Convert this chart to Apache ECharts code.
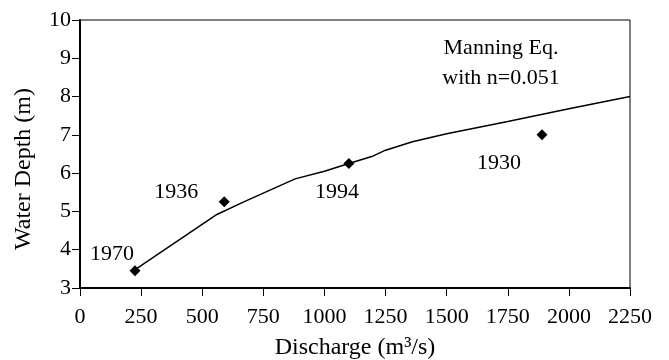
<!DOCTYPE html>
<html>
<head>
<meta charset="utf-8">
<script src="https://cdn.jsdelivr.net/npm/echarts@6/dist/echarts.min.js"></script>
<style>
  html, body { margin: 0; padding: 0; background: #fff; }
  #chart { width: 669px; height: 360px; }
</style>
</head>
<body>
<div id="chart"></div>
<script>
// Observed floods: year, discharge (m3/s), water depth (m)
const obsYears = ["1970", "1936", "1994", "1930"];
const obsDischarge = [225, 590, 1100, 1890];
const obsDepth = [3.45, 5.25, 6.25, 7.0];

// Manning equation rating curve (n = 0.051)
const curveDischarge = [230, 560, 670, 880, 1000, 1100, 1200, 1250, 1360, 1500, 1750, 2000, 2250];
const curveDepth = [3.5, 4.92, 5.25, 5.85, 6.05, 6.25, 6.45, 6.6, 6.82, 7.03, 7.35, 7.68, 8.0];

const FONT = "'Liberation Serif', 'DejaVu Serif', serif";
const TEXT_COLOR = "#000";

// label offsets per observed year (pixels)
const labelOffsets = {
  "1970": [-23, -17],
  "1936": [-48, -10],
  "1994": [-12, 29],
  "1930": [-43, 28],
};

const chart = echarts.init(document.getElementById("chart"));

const option = {
  animation: false,
  backgroundColor: "#fff",
  grid: {
    left: 80,
    right: 39,
    top: 20,
    bottom: 72,
    outerBoundsMode: "none",
    show: true,
    borderColor: "#000",
    borderWidth: 1,
    backgroundColor: "transparent",
  },
  xAxis: {
    type: "value",
    min: 0,
    max: 2250,
    interval: 250,
    name: "Discharge (m³/s)",
    nameLocation: "middle",
    nameGap: 48,
    nameTextStyle: { fontFamily: FONT, fontSize: 24, color: TEXT_COLOR },
    axisLine: { show: true, lineStyle: { color: "#000", width: 2 } },
    axisTick: { show: true, inside: false, length: 8, lineStyle: { color: "#000", width: 1 } },
    axisLabel: {
      fontFamily: FONT,
      fontSize: 22,
      color: TEXT_COLOR,
      margin: 18,
      formatter: (v) => String(v),
    },
    splitLine: { show: false },
  },
  yAxis: {
    type: "value",
    min: 3,
    max: 10,
    interval: 1,
    name: "Water Depth (m)",
    nameLocation: "middle",
    nameGap: 44,
    nameTextStyle: {
      fontFamily: FONT,
      fontSize: 24,
      color: TEXT_COLOR,
      padding: [0, 30, 0, 0],
    },
    axisLine: { show: true, lineStyle: { color: "#000", width: 2 } },
    axisTick: { show: true, inside: false, length: 8, lineStyle: { color: "#000", width: 1 } },
    axisLabel: { fontFamily: FONT, fontSize: 22, color: TEXT_COLOR, margin: 9 },
    splitLine: { show: false },
  },
  graphic: [
    {
      type: "text",
      x: 501,
      y: 33,
      style: {
        text: "Manning Eq.\nwith n=0.051",
        font: "22px " + FONT,
        fill: TEXT_COLOR,
        align: "center",
        lineHeight: 30,
      },
    },
  ],
  series: [
    {
      name: "Manning",
      type: "line",
      data: curveDischarge.map((q, i) => [q, curveDepth[i]]),
      symbol: "none",
      lineStyle: { color: "#000", width: 1.5 },
      z: 2,
    },
    {
      name: "Observed",
      type: "scatter",
      symbol: "diamond",
      symbolSize: 11,
      itemStyle: { color: "#000", opacity: 1 },
      z: 3,
      data: obsYears.map((yr, i) => ({
        value: [obsDischarge[i], obsDepth[i]],
        label: {
          show: true,
          formatter: yr,
          position: "inside",
          offset: labelOffsets[yr],
          fontFamily: FONT,
          fontSize: 22,
          color: TEXT_COLOR,
          textBorderWidth: 0,
          textBorderColor: "transparent",
        },
      })),
    },
  ],
};

chart.setOption(option);
</script>
</body>
</html>
